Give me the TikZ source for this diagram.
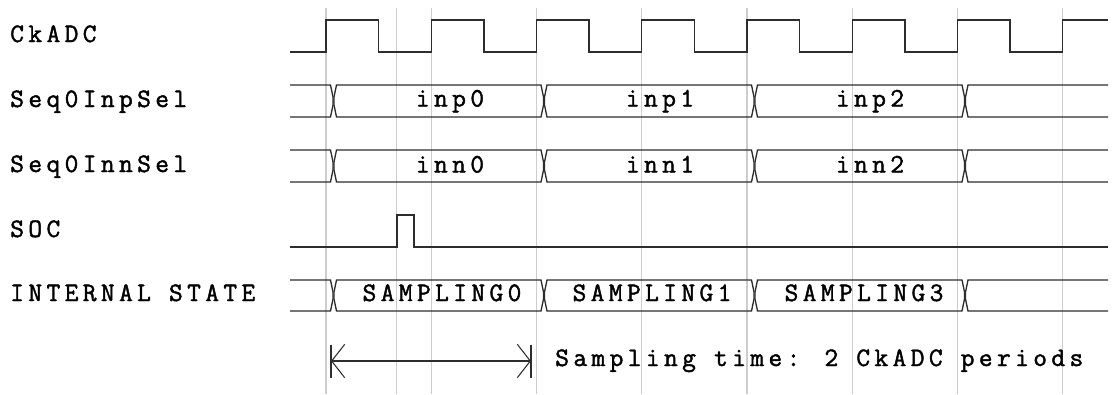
\documentclass[tikz,border=0pt]{standalone}
\usepackage{fontspec}
\usepackage{tikz}
\usetikzlibrary{arrows.meta, positioning, calc}
\definecolor{mywave}{RGB}{45,45,45}
\definecolor{mygrid}{RGB}{205,205,205}
\newfontfamily\sigfamily{Latin Modern Mono}[LetterSpace=16.5, FakeBold=1.6]
\newcommand{\sigfont}{\sigfamily\fontsize{20}{23}\selectfont}
\tikzset{
  wave/.style={draw=mywave, line width=1pt, line join=miter},
  gridline/.style={draw=mygrid, line width=0.8pt},
  siglabel/.style={font=\sigfont, text=black, anchor=base west, inner sep=0pt},
  buslabel/.style={font=\sigfont, text=black, anchor=base, inner sep=0pt},
  dimarrow/.style={{Straight Barb[length=9.75pt,width=25pt]}-{Straight Barb[length=9.75pt,width=25pt]},
    draw=mywave, line width=0.8pt}
}

\begin{document}
\begin{tikzpicture}[x=0.75pt, y=-0.75pt]
  \useasboundingbox (0,0) rectangle (1113,394);

  % Clock grid
  \foreach \k in {0,...,7}
    \draw[gridline] ({326+105.25*\k},8) -- ({326+105.25*\k},394);
  \draw[gridline] (396.5,8) -- (396.5,394);

  % Signal names
  \node[siglabel] (ckadc) at (10,42) {CkADC};
  \node[siglabel] (inpsel) at (10,107) {Seq0InpSel};
  \node[siglabel] (innsel) at (10,172) {Seq0InnSel};
  \node[siglabel] (soc) at (10,237) {SOC};
  \node[siglabel] (state) at (10,301) {INTERNAL STATE};

  % CkADC
  \draw[wave] (290,52) \foreach \k in {0,...,6} {
      -- ({326+105.25*\k},52) -- ({326+105.25*\k},20)
      -- ({378.6+105.25*\k},20) -- ({378.6+105.25*\k},52) }
    -- (1062.75,52) -- (1062.75,20) -- (1108,20);

  % Buses
  \foreach \t/\b in {85/117, 150/182, 280/311} {
    \draw[wave] (290,\t) -- (330.5,\t) -- (333,\t+12) -- (333,\b-12) -- (330.5,\b) -- (290,\b);
    \foreach \a/\c in {333.5/544, 544/754.5, 754.5/965}
      \draw[wave] (\a+3,\t) -- (\c-3,\t) -- (\c-0.5,\t+12) -- (\c-0.5,\b-12) -- (\c-3,\b)
        -- (\a+3,\b) -- (\a+0.5,\b-12) -- (\a+0.5,\t+12) -- cycle;
    \draw[wave] (1108,\t) -- (968,\t) -- (965.5,\t+12) -- (965.5,\b-12) -- (968,\b) -- (1108,\b);
  }

  % Bus values
  \foreach \x/\txt in {450/inp0, 660/inp1, 870/inp2}
    \node[buslabel] (\txt) at (\x,106.5) {\txt};
  \foreach \x/\txt in {450/inn0, 660/inn1, 870/inn2}
    \node[buslabel] (\txt) at (\x,172.5) {\txt};
  \foreach \x/\txt in {442/SAMPLING0, 652/SAMPLING1, 864/SAMPLING3}
    \node[buslabel] (\txt) at (\x,301) {\txt};

  % SOC
  \draw[wave] (290,247) -- (397,247) -- (397,215) -- (414,215) -- (414,247) -- (1108,247);

  % Sampling time
  \coordinate (tl) at (331,361);
  \coordinate (tr) at (531,361);
  \draw[dimarrow] (tl) -- (tr);
  \draw[wave, line width=0.8pt] ($(tl)+(0,-16.5)$) -- ($(tl)+(0,16.5)$);
  \draw[wave, line width=0.8pt] ($(tr)+(0,-16.5)$) -- ($(tr)+(0,16.5)$);
  \node[siglabel] (note) at (555,366) {Sampling time: 2 CkADC periods};
\end{tikzpicture}
\end{document}
